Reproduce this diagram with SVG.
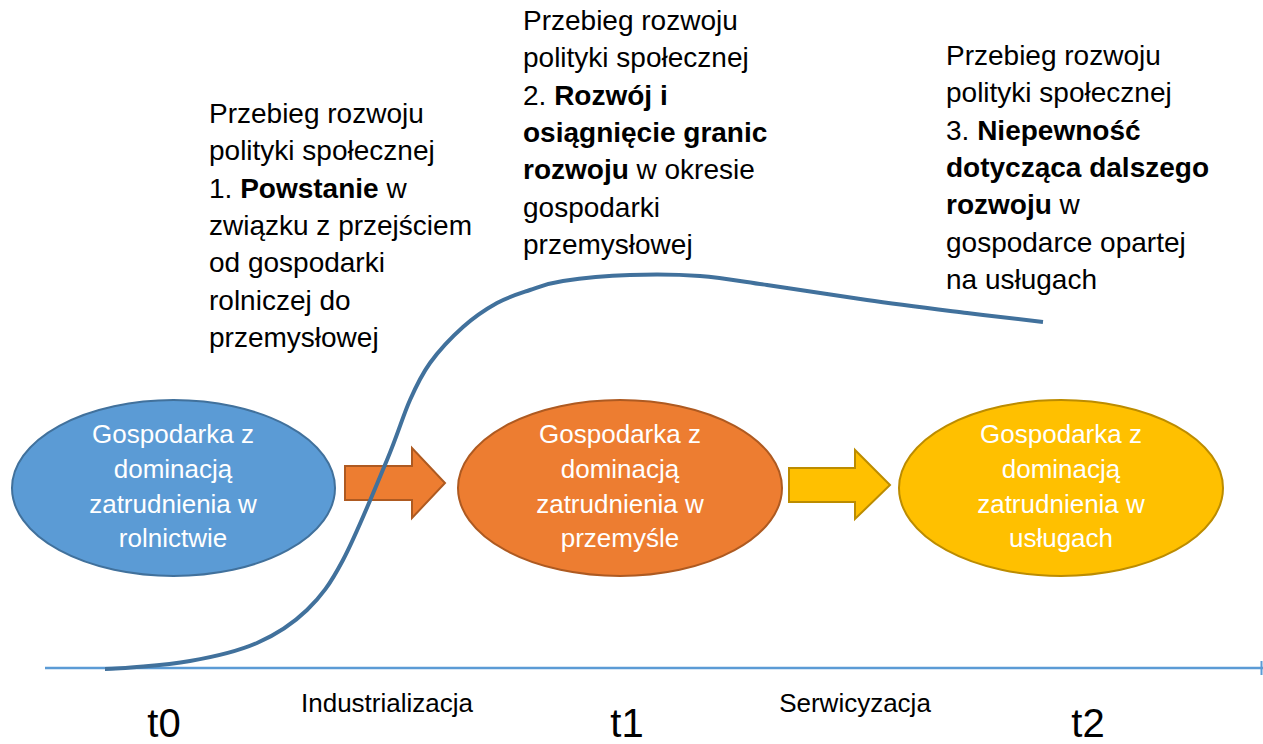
<svg xmlns="http://www.w3.org/2000/svg" width="1263" height="744" viewBox="0 0 1263 744">
<style>
.blk{font-family:"Liberation Sans",Arial,sans-serif;font-size:28px;fill:#000}
.b{font-weight:bold}
.el{font-family:"Liberation Sans",Arial,sans-serif;font-size:26px;fill:#fff;text-anchor:middle}
.lbl{font-family:"Liberation Sans",Arial,sans-serif;font-size:26px;fill:#000;text-anchor:middle}
.t{font-family:"Liberation Sans",Arial,sans-serif;font-size:40px;fill:#000;text-anchor:middle}
</style>
<rect width="1263" height="744" fill="#fff"/>

<g id="text-1">
<text class="blk" x="209" y="123">Przebieg rozwoju</text>
<text class="blk" x="209" y="160.3">polityki społecznej</text>
<text class="blk" x="209" y="197.6">1. <tspan class="b">Powstanie</tspan> w</text>
<text class="blk" x="209" y="234.9">związku z przejściem</text>
<text class="blk" x="209" y="272.2">od gospodarki</text>
<text class="blk" x="209" y="309.5">rolniczej do</text>
<text class="blk" x="209" y="346.8">przemysłowej</text>
</g>
<g id="text-2">
<text class="blk" x="523" y="30">Przebieg rozwoju</text>
<text class="blk" x="523" y="67.3">polityki społecznej</text>
<text class="blk" x="523" y="104.6">2. <tspan class="b">Rozwój i</tspan></text>
<text class="blk b" x="523" y="141.9">osiągnięcie granic</text>
<text class="blk" x="523" y="179.2"><tspan class="b">rozwoju</tspan> w okresie</text>
<text class="blk" x="523" y="216.5">gospodarki</text>
<text class="blk" x="523" y="253.8">przemysłowej</text>
</g>
<g id="text-3">
<text class="blk" x="946" y="65">Przebieg rozwoju</text>
<text class="blk" x="946" y="102.3">polityki społecznej</text>
<text class="blk" x="946" y="139.6">3. <tspan class="b">Niepewność</tspan></text>
<text class="blk b" x="946" y="176.9">dotycząca dalszego</text>
<text class="blk" x="946" y="214.2"><tspan class="b">rozwoju</tspan> w</text>
<text class="blk" x="946" y="251.5">gospodarce opartej</text>
<text class="blk" x="946" y="288.8">na usługach</text>
</g>

<g id="axis">
<line x1="45" y1="668" x2="1263" y2="668" stroke="#5B9BD5" stroke-width="2.5"/>
<line x1="1261.5" y1="661" x2="1261.5" y2="675" stroke="#5B9BD5" stroke-width="2"/>
</g>

<g id="node-agri">
<ellipse cx="173.5" cy="488" rx="161.5" ry="88" fill="#5B9BD5" stroke="#41719C" stroke-width="2"/>
<text class="el" x="173" y="443">Gospodarka z</text>
<text class="el" x="173" y="478">dominacją</text>
<text class="el" x="173" y="513">zatrudnienia w</text>
<text class="el" x="173" y="547">rolnictwie</text>
</g>
<g id="node-ind">
<ellipse cx="620" cy="488" rx="162" ry="88" fill="#ED7D31" stroke="#AE5A21" stroke-width="2"/>
<text class="el" x="620" y="443">Gospodarka z</text>
<text class="el" x="620" y="478">dominacją</text>
<text class="el" x="620" y="513">zatrudnienia w</text>
<text class="el" x="620" y="547">przemyśle</text>
</g>
<g id="node-serv">
<ellipse cx="1061" cy="488" rx="162" ry="88" fill="#FFC000" stroke="#BC8C00" stroke-width="2"/>
<text class="el" x="1061" y="443">Gospodarka z</text>
<text class="el" x="1061" y="478">dominacją</text>
<text class="el" x="1061" y="513">zatrudnienia w</text>
<text class="el" x="1061" y="547">usługach</text>
</g>

<g id="connectors">
<path d="M345,466 H412 V448 L445,483 L412,518 V500 H345 Z" fill="#ED7D31" stroke="#AE5A21" stroke-width="2"/>
<path d="M789,468 H855 V450 L890,485 L855,519 V502 H789 Z" fill="#FFC000" stroke="#BC8C00" stroke-width="2"/>
<path d="M105,669 C119,669 164.7,665.3 190,661 C215.3,656.7 237.5,651.5 257,643 C276.5,634.5 292.7,623.8 307,610 C321.3,596.2 329.7,585 343,560 C356.3,535 375.8,486.7 387,460 C398.2,433.3 402.8,416.2 410,400 C417.2,383.8 421.2,375.2 430,363 C438.8,350.8 451.8,337 463,327 C474.2,317 485.8,309.2 497,303 C508.2,296.8 519,293.7 530,290 C541,286.3 546.3,283.5 563,281 C579.7,278.5 607.2,275.8 630,275 C652.8,274.2 677.2,274.3 700,276 C722.8,277.7 739.2,281 767,285 C794.8,289 833.7,295.3 867,300 C900.3,304.7 937.7,309.3 967,313 C996.3,316.7 1030.3,320.5 1043,322" fill="none" stroke="#41719C" stroke-width="4"/>
</g>

<g id="labels">
<text class="lbl" x="387" y="712">Industrializacja</text>
<text class="lbl" x="855" y="712">Serwicyzacja</text>
<text class="t" x="164" y="737">t0</text>
<text class="t" x="627" y="737">t1</text>
<text class="t" x="1088" y="737">t2</text>
</g>
</svg>
